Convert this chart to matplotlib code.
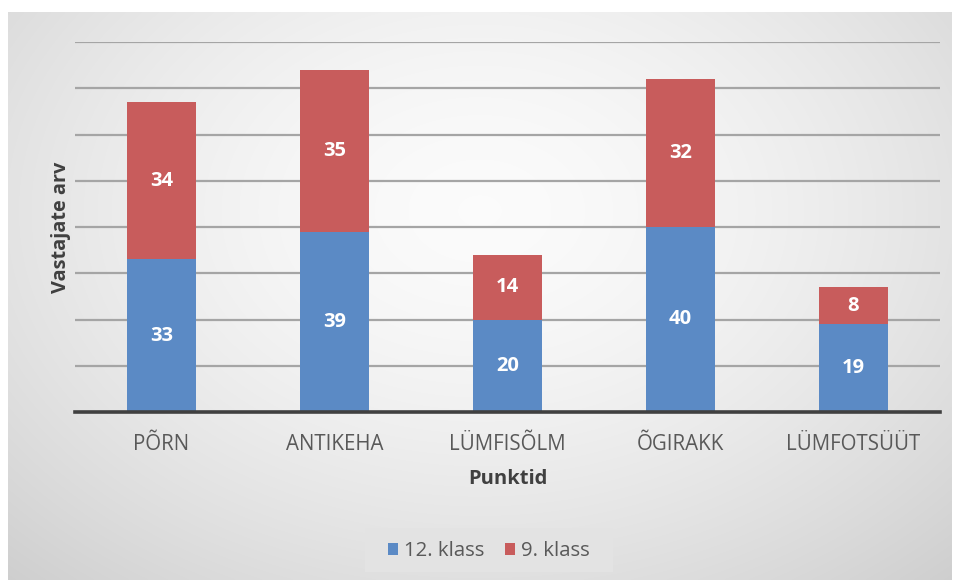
import numpy as np
import matplotlib
matplotlib.use("Agg")
import matplotlib.pyplot as plt
from matplotlib.patches import Rectangle

categories = ["PÕRN", "ANTIKEHA", "LÜMFISÕLM", "ÕGIRAKK", "LÜMFOTSÜÜT"]
klass12 = [33, 39, 20, 40, 19]
klass9 = [34, 35, 14, 32, 8]
series_names = ["12. klass", "9. klass"]

BLUE = "#5B8AC5"
RED = "#C85C5C"
FONT = ["Open Sans", "DejaVu Sans"]

W, H = 960, 583
fig = plt.figure(figsize=(W / 100, H / 100), dpi=100)
fig.patch.set_facecolor("white")

# chart area background: soft radial gray gradient
bg = fig.add_axes([8 / W, 3 / H, 944 / W, 568 / H])
yy, xx = np.mgrid[0:1:300j, 0:1:500j]
r = np.sqrt(((xx - 0.5) / 0.75) ** 2 + ((yy - 0.35) / 0.9) ** 2)
shade = 0.985 - 0.18 * np.clip(r, 0, 1.2) ** 1.6
bg.imshow(np.dstack([shade] * 3), aspect="auto", extent=[0, 1, 0, 1],
          origin="upper", interpolation="bilinear")
bg.set_axis_off()

# legend box
bg.add_patch(Rectangle(((365 - 8) / 944, (583 - 572 - 3) / 568), 248 / 944, 44 / 568,
                       facecolor="#e3e3e3", edgecolor="none", zorder=3))

ax = fig.add_axes([75 / W, (H - 412) / H, 865 / W, 370 / H])
ax.set_facecolor("none")
x = np.arange(len(categories))
bw = 0.395
b1 = ax.bar(x, klass12, bw, color=BLUE, zorder=3, label=series_names[0])
b2 = ax.bar(x, klass9, bw, bottom=klass12, color=RED, zorder=3, label=series_names[1])

for bars, vals, base in [(b1, klass12, [0] * 5), (b2, klass9, klass12)]:
    for rect, v, b in zip(bars, vals, base):
        ax.text(rect.get_x() + rect.get_width() / 2, b + v / 2, str(v),
                ha="center", va="center", color="white", fontsize=14.5,
                fontweight="bold", family=FONT, zorder=4)

ax.set_xlim(-0.5, len(categories) - 0.5)
ax.set_ylim(0, 80)
ax.set_yticks(np.arange(10, 81, 10))
ax.yaxis.grid(True, color="#a5a5a5", linewidth=1.6, zorder=0)
ax.tick_params(axis="y", length=0, labelleft=False)
ax.tick_params(axis="x", length=0, pad=16, labelsize=14.8, labelcolor="#595959")
ax.set_xticks(x)
ax.set_xticklabels(categories, family=FONT)
for s in ["top", "right", "left"]:
    ax.spines[s].set_visible(False)
ax.spines["bottom"].set_color("#404040")
ax.spines["bottom"].set_linewidth(2.6)
ax.spines["bottom"].set_zorder(5)

ax.set_xlabel("Punktid", fontsize=14.5, fontweight="bold", color="#404040",
              family=FONT, labelpad=10)
ax.set_ylabel("Vastajate arv", fontsize=14.3, fontweight="bold", color="#404040",
              family=FONT, labelpad=3)

leg = ax.legend(loc="center", bbox_to_anchor=(489 / W, (H - 551) / H),
                bbox_transform=fig.transFigure, ncol=2, frameon=False,
                prop={"family": FONT, "size": 14.7}, handlelength=0.5,
                handleheight=0.5, handletextpad=0.3, columnspacing=1.0)
for t in leg.get_texts():
    t.set_color("#595959")

fig.savefig("out.png", dpi=100)
